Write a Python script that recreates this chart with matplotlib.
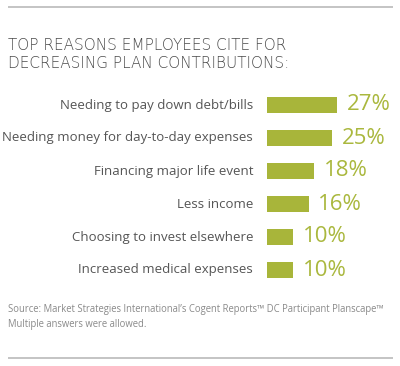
import matplotlib
matplotlib.use("Agg")
import matplotlib.pyplot as plt
from matplotlib.lines import Line2D

categories = [
    "Needing to pay down debt/bills",
    "Needing money for day-to-day expenses",
    "Financing major life event",
    "Less income",
    "Choosing to invest elsewhere",
    "Increased medical expenses",
]
values = [27, 25, 18, 16, 10, 10]
title_lines = ["TOP REASONS EMPLOYEES CITE FOR", "DECREASING PLAN CONTRIBUTIONS:"]
source_lines = ["Source: Market Strategies International\u2019s Cogent Reports\u2122 DC Participant Planscape\u2122",
                "Multiple answers were allowed."]

FONT = ["Open Sans", "DejaVu Sans"]
BAR = "#a8b53a"
W, H = 400, 366
fig = plt.figure(figsize=(W / 100, H / 100), dpi=100)
fig.patch.set_facecolor("white")

def px(x, y):
    return x / W, 1 - y / H

# rules
for yy in (6.5, 358):
    fig.add_artist(Line2D([8 / W, 393 / W], [1 - yy / H, 1 - yy / H], color="#c4c4c4",
                          lw=1.4, solid_capstyle="butt"))

# title
for line, yb in zip(title_lines, (50.5, 67.5)):
    fig.text(*px(8, yb), line, ha="left", va="baseline", fontsize=11, color="#4a4a4a",
             family=["DejaVu Sans"], fontweight="light")

# axes
T, B = 88.5, 286.5
left = 267
ax = fig.add_axes([left / W, 1 - B / H, 130 / W, (B - T) / H])
ax.set_xlim(0, 130 / 2.6)
ax.set_ylim(len(values) - 0.5, -0.5)
ax.axis("off")
ys = list(range(len(values)))
ax.barh(ys, values, height=0.48, color=BAR)
for y, c, v in zip(ys, categories, values):
    ax.annotate(c, (0, y), xytext=(-10, 0), textcoords="offset points", ha="right",
                va="center", fontsize=9.5, color="#555555", family=FONT)
    ax.annotate(f"{v}%", (v, y), xytext=(7, 0), textcoords="offset points", ha="left",
                va="center", fontsize=16, color="#aab83e", family=FONT)

for line, yb in zip(source_lines, (312, 327)):
    fig.text(*px(8, yb), line, ha="left", va="baseline", fontsize=6.85, color="#8a8a8a",
             family=FONT)

fig.savefig("out.png", dpi=100, facecolor="white")
